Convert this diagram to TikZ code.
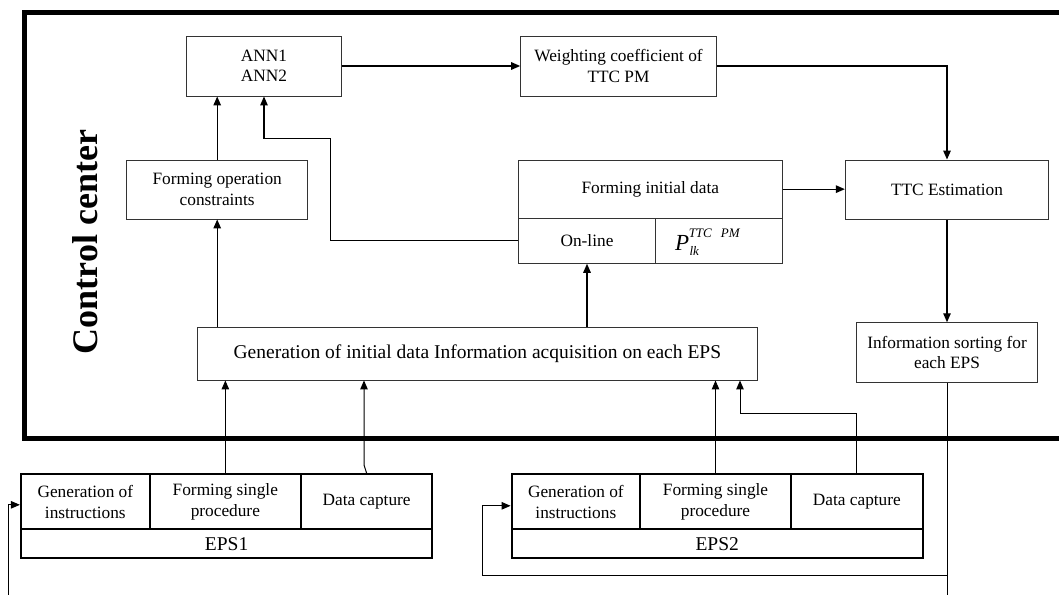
\documentclass[tikz,border=0pt]{standalone}
\usepackage{fontspec}
\setmainfont{Liberation Serif}
\usetikzlibrary{arrows.meta,calc}
\begin{document}
\begin{tikzpicture}[x=1pt,y=-1pt,
  box/.style={draw=black!80, line width=0.9pt, inner sep=0pt, align=center, font=\fontsize{17.3}{20.5}\selectfont},
  epsbox/.style={draw=black, line width=2.2pt, inner sep=0pt, align=center, font=\fontsize{17.3}{20.5}\selectfont},
  bigtext/.style={font=\fontsize{19.5}{22}\selectfont},
  arr/.style={line width=1.3pt, -{Triangle[length=9pt,width=7.5pt]}},
  thinarr/.style={line width=1pt, -{Triangle[length=9pt,width=7.5pt]}},
  thinline/.style={line width=1pt},
  frame/.style={line width=5pt, line join=miter}
]
\useasboundingbox (0,0) rectangle (1059,594);
% control center frame
\coordinate (ftr) at (1062,12.5);
\coordinate (ftl) at (24.5,12.5);
\coordinate (fbl) at (24.5,438);
\coordinate (fbr) at (1062,438);
\draw[frame] (ftr) -- (ftl) -- (fbl) -- (fbr);
\node[rotate=90, inner sep=0pt, font=\bfseries\fontsize{36}{36}\selectfont] (cc) at (85,242) {Control center};

% boxes in control center
\node[box, minimum width=154.5pt, minimum height=60pt] (ann) at (264,66) {ANN1\\ANN2};
\node[box, minimum width=195.7pt, minimum height=60pt] (wgt) at (618.5,66) {Weighting coefficient of\\TTC PM};
\node[box, minimum width=180.8pt, minimum height=59pt] (fop) at (217.2,189.5) {Forming operation\\constraints};
\node[box, minimum width=264pt, minimum height=58.3pt] (fidtop) at (650.3,189.15) {Forming initial data};
\node[box, minimum width=137.4pt, minimum height=45pt] (online) at (587,240.8) {On-line};
\node[box, minimum width=126.6pt, minimum height=45pt] (pcell) at (719,240.8) {};
\node[inner sep=0pt, anchor=base west] (ptext) at (675,250)
  {{\fontsize{23}{23}\selectfont\itshape P}\hspace{-0.5pt}\makebox[0pt][l]{\raisebox{12.7pt}{\fontsize{13}{13}\selectfont\itshape TTC\hspace{9pt}PM}}\hspace{0.8pt}\raisebox{-5pt}{\fontsize{13}{13}\selectfont\itshape lk}};
\node[box, minimum width=203.4pt, minimum height=59.3pt] (ttc) at (947,189.65) {TTC Estimation};
\node[box, bigtext, minimum width=560.1pt, minimum height=52.7pt] (gen) at (477.35,353.65) {Generation of initial data Information acquisition on each EPS};
\node[box, minimum width=180.7pt, minimum height=59.6pt] (info) at (947,352.5) {Information sorting for\\each EPS};

% EPS1
\node[epsbox, minimum width=128.7pt, minimum height=55pt] (e1c1) at (85.35,501.8) {Generation of\\instructions};
\node[epsbox, minimum width=151.3pt, minimum height=55pt] (e1c2) at (225.35,501.8) {Forming single\\procedure};
\node[epsbox, minimum width=131.3pt, minimum height=55pt] (e1c3) at (366.65,501.8) {Data capture};
\node[epsbox, bigtext, minimum width=411.3pt, minimum height=29pt] (e1lab) at (226.65,543.8) {EPS1};
% EPS2
\node[epsbox, minimum width=128.3pt, minimum height=55pt] (e2c1) at (575.85,501.8) {Generation of\\instructions};
\node[epsbox, minimum width=151pt, minimum height=55pt] (e2c2) at (715.5,501.8) {Forming single\\procedure};
\node[epsbox, minimum width=131.7pt, minimum height=55pt] (e2c3) at (856.85,501.8) {Data capture};
\node[epsbox, bigtext, minimum width=411pt, minimum height=29pt] (e2lab) at (717.2,543.8) {EPS2};

% connectors inside control center
\draw[arr] (ann) -- (wgt);
\draw[arr] (wgt.east) -| (ttc.north);
\draw[arr] (fop.north) -- (fop.north |- ann.south);
\coordinate (k1) at (330.6,138.3);
\draw[arr] (online.west) -| (k1) -| (ann.south);
\draw[arr] (fidtop.east) -- (fidtop.east -| ttc.west);
\draw[arr] (gen.north -| fop.south) -- (fop.south);
\draw[arr] (gen.north -| online.south) -- (online.south);
\draw[arr] (ttc.south) -- (ttc.south |- info.north);

% information sorting to EPS
\coordinate (bot) at (947,596);
\draw[thinline] (info.south) -- (bot);
\coordinate (j2) at (947,575.7);
\coordinate (l2) at (482,575.7);
\draw[thinarr] (j2) -- (l2) |- ([yshift=-4pt]e2c1.west);
\coordinate (b1) at (8.3,596);
\draw[thinarr] (b1) |- ([yshift=-3pt]e1c1.west);

% EPS to generation box
\draw[thinarr] (e1c2.north) -- (e1c2.north |- gen.south);
\coordinate (k3) at (364,465);
\draw[thinarr] (e1c3.north) -- (k3) -- (k3 |- gen.south);
\draw[thinarr] (e2c2.north) -- (e2c2.north |- gen.south);
\coordinate (k4) at (740,413.7);
\draw[thinarr] (e2c3.north) |- (k4) -- (k4 |- gen.south);
\end{tikzpicture}
\end{document}
